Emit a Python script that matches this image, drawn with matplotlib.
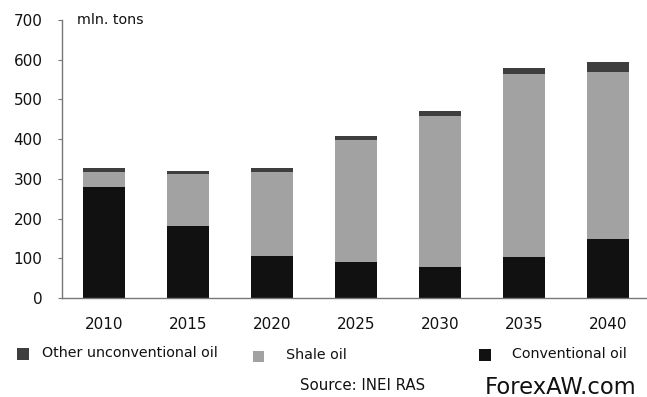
import matplotlib
matplotlib.use("Agg")
import matplotlib.pyplot as plt
from matplotlib.patches import Rectangle

years = ["2010", "2015", "2020", "2025", "2030", "2035", "2040"]
conventional = [280, 182, 107, 91, 77, 104, 149]
shale = [38, 130, 210, 307, 381, 460, 419]
other = [9, 7, 11, 11, 14, 14, 25]
yticks = [0, 100, 200, 300, 400, 500, 600, 700]

c_conv = "#111111"
c_shale = "#a2a2a2"
c_other = "#3e3e3e"
axis_col = "#777777"

W, H = 647, 397
fig = plt.figure(figsize=(W / 100, H / 100), dpi=100)
plt.rcParams["font.family"] = ["DejaVu Sans"]

# axes box in pixel units (left, bottom from the figure's lower edge)
ax_l, ax_b, ax_w, ax_h = 62, 99, 588, 278
ax = fig.add_axes([ax_l / W, ax_b / H, ax_w / W, ax_h / H])

x = list(range(len(years)))
bottom2 = [a + b for a, b in zip(conventional, shale)]
ax.bar(x, conventional, width=0.5, color=c_conv, label="Conventional oil")
ax.bar(x, shale, width=0.5, bottom=conventional, color=c_shale, label="Shale oil")
ax.bar(x, other, width=0.5, bottom=bottom2, color=c_other,
       label="Other unconventional oil")

ax.set_xlim(-0.5, 6.5)
ax.set_ylim(0, 700)
ax.set_yticks(yticks)
ax.set_yticklabels([str(v) for v in yticks], fontsize=11, color="#111111")
ax.set_xticks(x)
ax.set_xticklabels(years, fontsize=11, color="#111111")

for s in ["top", "right"]:
    ax.spines[s].set_visible(False)
for s in ["left", "bottom"]:
    ax.spines[s].set_color(axis_col)
    ax.spines[s].set_linewidth(1.0)
ax.tick_params(axis="y", length=3, color=axis_col, pad=11)
ax.tick_params(axis="x", length=0, pad=14)

ax.text(0.025, 700, "mln. tons", fontsize=10.3, color="#111111",
        transform=ax.get_yaxis_transform(), va="center", ha="left")

# legend row drawn in figure pixels
def legend_item(x0, y_center, size, color, label, tx):
    fig.add_artist(Rectangle(((x0) / W, (H - y_center - size / 2) / H),
                             size / W, size / H, transform=fig.transFigure,
                             facecolor=color, edgecolor="none"))
    fig.text(tx / W, (H - y_center + 1) / H, label, fontsize=10.3,
             color="#111111", va="center", ha="left")

legend_item(17, 354, 12, c_other, "Other unconventional oil", 42)
legend_item(253, 356, 11, c_shale, "Shale oil", 286)
legend_item(479, 355, 12, c_conv, "Conventional oil", 512)

fig.text(300 / W, (H - 386) / H, "Source: INEI RAS", fontsize=10.8,
         color="#111111", va="center", ha="left")
fig.text(485 / W, (H - 387) / H, "ForexAW.com", fontsize=16.3,
         color="#111111", va="center", ha="left")

fig.savefig("out.png", dpi=100)
